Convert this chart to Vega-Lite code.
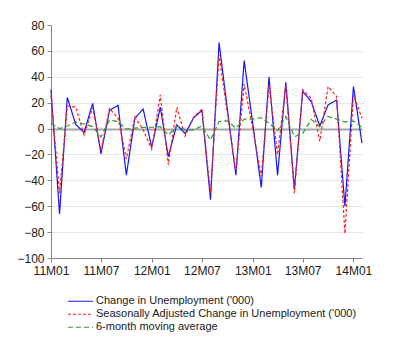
{
  "$schema": "https://vega.github.io/schema/vega-lite/v6.json",
  "autosize": {"type": "none"},
  "padding": {"left": 51, "top": 25, "right": 38, "bottom": 99},
  "width": 311,
  "height": 233,
  "background": "white",
  "config": {"font": "Liberation Sans", "view": {"stroke": null}},
  "data": {"values": [
    {"month": "2011-01-01", "a": 30, "b": 25, "c": 4},
    {"month": "2011-02-01", "a": -66, "b": -50, "c": 0},
    {"month": "2011-03-01", "a": 24, "b": 17.5, "c": 2},
    {"month": "2011-04-01", "a": 3, "b": 16.5, "c": 5},
    {"month": "2011-05-01", "a": -3, "b": -5, "c": 3.5},
    {"month": "2011-06-01", "a": 19.5, "b": 16, "c": 1.5},
    {"month": "2011-07-01", "a": -19.5, "b": -17, "c": -6.5},
    {"month": "2011-08-01", "a": 14, "b": 15.5, "c": 6.5},
    {"month": "2011-09-01", "a": 18, "b": 8, "c": 5.4},
    {"month": "2011-10-01", "a": -36, "b": -23.5, "c": -0.5},
    {"month": "2011-11-01", "a": 8, "b": 9, "c": 0.3},
    {"month": "2011-12-01", "a": 15, "b": -1, "c": 0.8},
    {"month": "2012-01-01", "a": -14.5, "b": -16, "c": 1},
    {"month": "2012-02-01", "a": 16.5, "b": 26, "c": 1.5},
    {"month": "2012-03-01", "a": -21.7, "b": -28, "c": -5},
    {"month": "2012-04-01", "a": 3, "b": 16.5, "c": 2},
    {"month": "2012-05-01", "a": -4, "b": -6, "c": -1},
    {"month": "2012-06-01", "a": 8.3, "b": 9, "c": -1},
    {"month": "2012-07-01", "a": 14, "b": 15, "c": 2},
    {"month": "2012-08-01", "a": -55, "b": -50, "c": -8.9},
    {"month": "2012-09-01", "a": 66.5, "b": 57, "c": 5.4},
    {"month": "2012-10-01", "a": 15, "b": 12, "c": 5.9},
    {"month": "2012-11-01", "a": -36, "b": -33, "c": 0.3},
    {"month": "2012-12-01", "a": 52.5, "b": 34.5, "c": 7.3},
    {"month": "2013-01-01", "a": 4, "b": 0, "c": 7.3},
    {"month": "2013-02-01", "a": -45.5, "b": -37, "c": 8.5},
    {"month": "2013-03-01", "a": 40, "b": 33.8, "c": 4.2},
    {"month": "2013-04-01", "a": -36, "b": -20, "c": -1.8},
    {"month": "2013-05-01", "a": 35.8, "b": 33.8, "c": 9.2},
    {"month": "2013-06-01", "a": -47, "b": -50, "c": -6.3},
    {"month": "2013-07-01", "a": 28.6, "b": 30, "c": -3.8},
    {"month": "2013-08-01", "a": 20.9, "b": 23.5, "c": 7},
    {"month": "2013-09-01", "a": 2, "b": -10, "c": 1.5},
    {"month": "2013-10-01", "a": 18.3, "b": 32.5, "c": 9.3},
    {"month": "2013-11-01", "a": 22, "b": 24.7, "c": 7.3},
    {"month": "2013-12-01", "a": -60, "b": -81, "c": 5.2},
    {"month": "2014-01-01", "a": 32.5, "b": 26, "c": 5.8},
    {"month": "2014-02-01", "a": -11.3, "b": 8, "c": 0.8}
  ]},
  "transform": [{"fold": ["a", "b", "c"], "as": ["series", "value"]}],
  "mark": {"type": "line", "strokeWidth": 1.2},
  "encoding": {
    "x": {
      "field": "month",
      "type": "temporal",
      "scale": {"type": "utc", "domain": [{"year": 2011, "month": 1, "date": 1, "utc": true}, {"year": 2014, "month": 2, "date": 1, "utc": true}]},
      "axis": {
        "title": null,
        "values": [
          {"year": 2011, "month": 1, "date": 1, "utc": true},
          {"year": 2011, "month": 7, "date": 1, "utc": true},
          {"year": 2012, "month": 1, "date": 1, "utc": true},
          {"year": 2012, "month": 7, "date": 1, "utc": true},
          {"year": 2013, "month": 1, "date": 1, "utc": true},
          {"year": 2013, "month": 7, "date": 1, "utc": true},
          {"year": 2014, "month": 1, "date": 1, "utc": true}
        ],
        "labelExpr": "utcFormat(datum.value, '%y') + 'M' + utcFormat(datum.value, '%m')",
        "grid": false,
        "domainColor": "#868686",
        "tickColor": "#868686",
        "tickSize": 4,
        "labelFontSize": 12,
        "labelColor": "#1a1a1a",
        "labelPadding": 3,
        "labelFlush": false,
        "labelOverlap": false
      }
    },
    "y": {
      "field": "value",
      "type": "quantitative",
      "scale": {"domain": [-100, 80], "nice": false, "zero": false},
      "axis": {
        "title": null,
        "values": [-100, -80, -60, -40, -20, 0, 20, 40, 60, 80],
        "domainColor": "#868686",
        "tickColor": "#868686",
        "tickSize": 4,
        "labelFontSize": 12,
        "labelColor": "#1a1a1a",
        "labelPadding": 3,
        "gridColor": {"condition": {"test": "datum.value === 0", "value": "#a6a6a6"}, "value": "#e6e6e6"},
        "gridWidth": {"condition": {"test": "datum.value === 0", "value": 2}, "value": 1},
        "gridOpacity": {"condition": {"test": "datum.value === 80", "value": 0}, "value": 1}
      }
    },
    "color": {
      "field": "series",
      "type": "nominal",
      "scale": {"domain": ["a", "b", "c"], "range": ["#1414ff", "#ff2020", "#2e9a2e"]},
      "legend": {
        "title": null,
        "orient": "none",
        "legendX": 16,
        "legendY": 270,
        "symbolType": "stroke",
        "symbolSize": 625,
        "symbolStrokeWidth": 1.2,
        "labelFontSize": 11,
        "labelColor": "#1a1a1a",
        "labelOffset": 2,
        "labelLimit": 0,
        "clipHeight": 12.5,
        "rowPadding": 0,
        "padding": 0,
        "labelExpr": "datum.label === 'a' ? \"Change in Unemployment ('000)\" : datum.label === 'b' ? \"Seasonally Adjusted Change in Unemployment ('000)\" : '6-month moving average'"
      }
    },
    "strokeDash": {
      "field": "series",
      "type": "nominal",
      "scale": {"domain": ["a", "b", "c"], "range": [[1, 0], [3, 2], [5, 3]]},
      "legend": {
        "title": null,
        "orient": "none",
        "legendX": 16,
        "legendY": 270,
        "symbolType": "stroke",
        "symbolSize": 625,
        "symbolStrokeWidth": 1.2,
        "labelFontSize": 11,
        "labelColor": "#1a1a1a",
        "labelOffset": 2,
        "labelLimit": 0,
        "clipHeight": 12.5,
        "rowPadding": 0,
        "padding": 0,
        "labelExpr": "datum.label === 'a' ? \"Change in Unemployment ('000)\" : datum.label === 'b' ? \"Seasonally Adjusted Change in Unemployment ('000)\" : '6-month moving average'"
      }
    }
  }
}
